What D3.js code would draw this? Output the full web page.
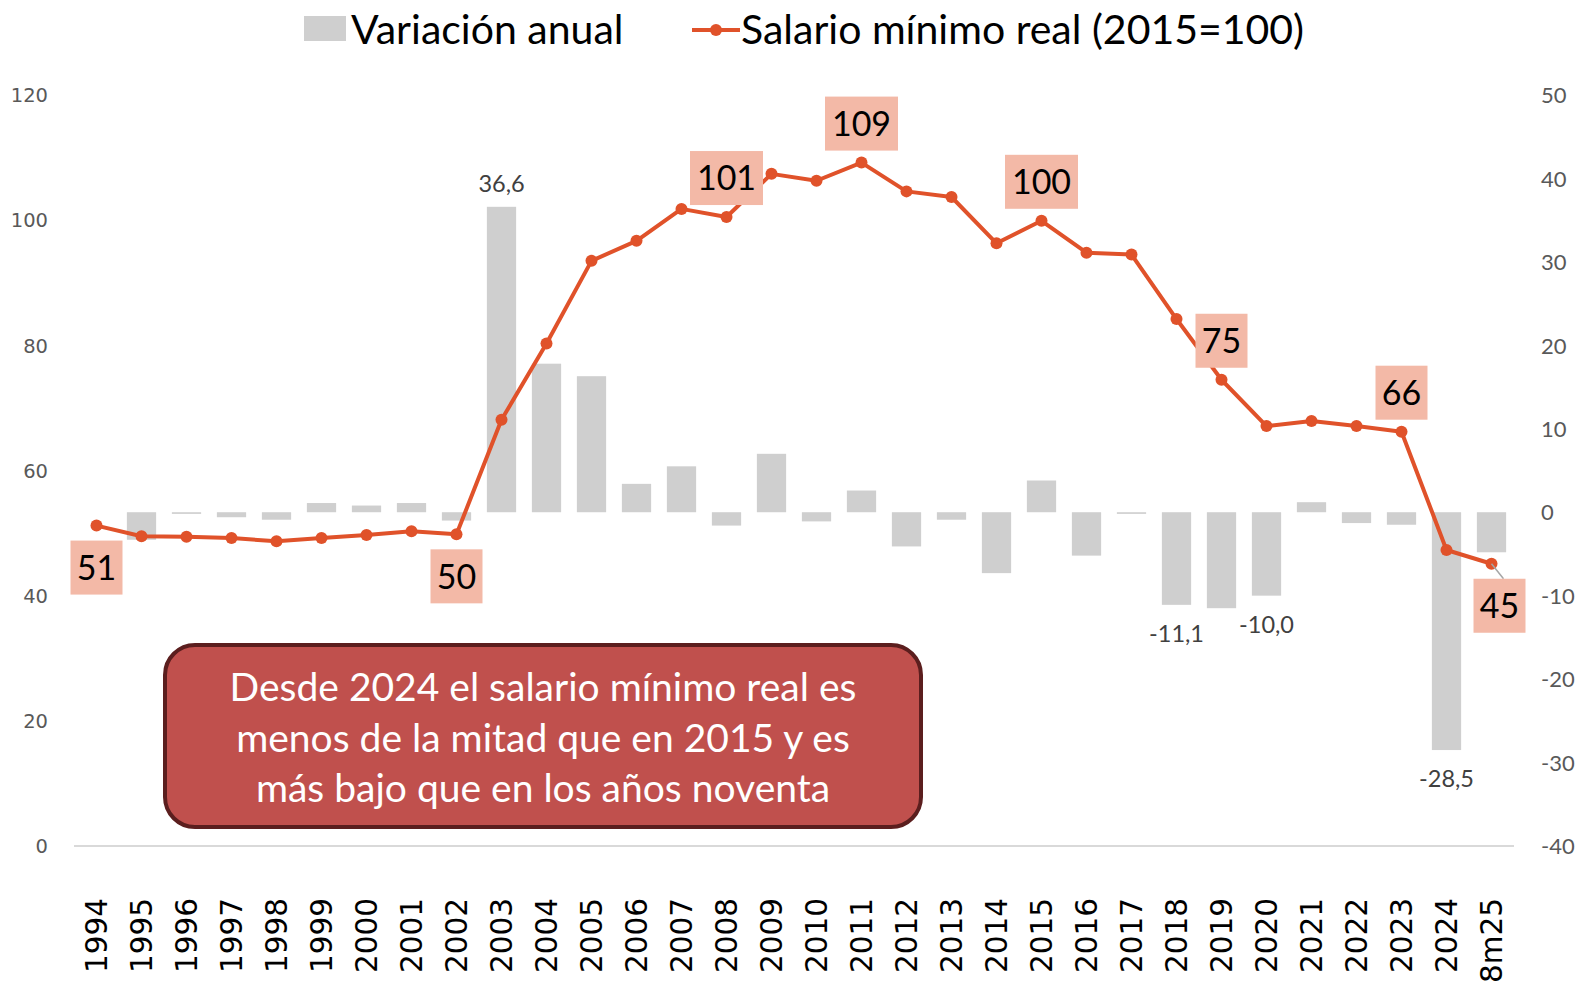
<!DOCTYPE html>
<html><head><meta charset="utf-8">
<script src="https://cdn.jsdelivr.net/npm/d3@7"></script>
<style>html,body{margin:0;padding:0;background:#fff;overflow:hidden}</style>
</head><body>
<svg id="c" width="1578" height="986"></svg>
<script>
const categories = ["1994","1995","1996","1997","1998","1999","2000","2001","2002","2003","2004","2005","2006","2007","2008","2009","2010","2011","2012","2013","2014","2015","2016","2017","2018","2019","2020","2021","2022","2023","2024","8m25"];
const salarioReal = [51.2,49.5,49.4,49.2,48.7,49.2,49.7,50.3,49.8,68.1,80.3,93.5,96.7,101.8,100.5,107.4,106.3,109.2,104.6,103.7,96.3,99.9,94.8,94.5,84.2,74.5,67.1,67.9,67.1,66.2,47.3,45.1];
const variacionAnual = [-3.3,-0.2,-0.6,-0.9,1.1,0.8,1.1,-1.0,36.6,17.8,16.3,3.4,5.5,-1.6,7.0,-1.1,2.6,-4.1,-0.9,-7.3,3.8,-5.2,-0.2,-11.1,-11.5,-10.0,1.2,-1.3,-1.5,-28.5,-4.8];
// first bar belongs to 1995; 1994 has no variation
const variacionCats = categories.slice(1);
const leftTicks = [0,20,40,60,80,100,120];
const rightTicks = [-40,-30,-20,-10,0,10,20,30,40,50];
const highlightCats = ["1994","2002","2008","2011","2015","2019","2023","8m25"];
const highlightPos = ["below","below","above","above","above","above","above","below"];
const barLabelCats = ["2003","2018","2020","2024"];
const legendLabels = ["Variación anual","Salario mínimo real (2015=100)"];
const noteLines = ["Desde 2024 el salario mínimo real es","menos de la mitad que en 2015 y es","más bajo que en los años noventa"];

(function(){
const svg = d3.select("#c");
const pL = 74, pR = 1514, pT = 95, pB = 846;
const LINE = "#E0522A", BAR = "#CFCFCF", HL = "#F3B9A7";

const x = d3.scaleBand().domain(categories).range([pL, pR]).paddingInner(0.35).paddingOuter(0.175);
const yL = d3.scaleLinear().domain([0,120]).range([pB, pT]);
const yR = d3.scaleLinear().domain([-40,50]).range([pB, pT]);
const cx = c => x(c) + x.bandwidth()/2;

// bottom axis line
svg.append("line").attr("x1", pL).attr("x2", pR).attr("y1", pB).attr("y2", pB)
  .attr("stroke", "#D9D9D9").attr("stroke-width", 2);

// left axis
const gL = svg.append("g").attr("transform", `translate(${pL-26},0)`)
  .call(d3.axisLeft(yL).tickValues(leftTicks).tickSize(0).tickPadding(0));
gL.select(".domain").remove();
gL.selectAll("text").attr("font-family","DejaVu Sans").attr("font-size",19.5).attr("fill","#595959").attr("dy","0.35em");

// right axis
const gR = svg.append("g").attr("transform", `translate(${pR+27},0)`)
  .call(d3.axisRight(yR).tickValues(rightTicks).tickSize(0).tickPadding(0).tickFormat(d => String(d)));
gR.select(".domain").remove();
gR.selectAll("text").attr("font-family","Lato").attr("font-size",22).attr("fill","#595959").attr("dy","0.35em");

// x labels
const gX = svg.append("g").attr("transform", `translate(0,${pB})`)
  .call(d3.axisBottom(x).tickSize(0).tickPadding(0));
gX.select(".domain").remove();
gX.selectAll("text")
  .attr("font-family","DejaVu Sans").attr("font-size",29.5).attr("fill","#000")
  .attr("text-anchor","end").attr("transform","rotate(-90)")
  .attr("x", -52).attr("y", 0).attr("dy","0.36em");

// bars
svg.append("g").selectAll("rect").data(variacionAnual).join("rect")
  .attr("x", (d,i) => x(variacionCats[i]))
  .attr("width", x.bandwidth())
  .attr("y", d => yR(Math.max(0,d)))
  .attr("height", d => Math.max(1, Math.abs(yR(d) - yR(0))))
  .attr("fill", BAR);

// bar labels
const fmt = v => v.toFixed(1).replace(".", ",");
svg.append("g").selectAll("text").data(barLabelCats).join("text")
  .attr("x", c => cx(c))
  .attr("y", c => { const v = variacionAnual[variacionCats.indexOf(c)]; return v >= 0 ? yR(v) - 23 : yR(v) + 29; })
  .attr("dy","0.35em")
  .attr("text-anchor","middle").attr("font-family","Lato").attr("font-size",23.5).attr("fill","#404040")
  .text(c => fmt(variacionAnual[variacionCats.indexOf(c)]));

// line
const line = d3.line().x((d,i) => cx(categories[i])).y(d => yL(d));
svg.append("path").datum(salarioReal).attr("d", line)
  .attr("fill","none").attr("stroke", LINE).attr("stroke-width", 4).attr("stroke-linejoin","round");
svg.append("g").selectAll("circle").data(salarioReal).join("circle")
  .attr("cx", (d,i) => cx(categories[i])).attr("cy", d => yL(d)).attr("r", 6).attr("fill", LINE);

// highlight labels
const hl = svg.append("g");
highlightCats.forEach((c, k) => {
  const i = categories.indexOf(c);
  const v = salarioReal[i];
  const txt = String(Math.round(v));
  const w = txt.length === 3 ? 73 : 52, h = 54;
  const px = cx(c) + (c === "8m25" ? 8 : 0);
  const py = yL(v);
  const cyv = highlightPos[k] === "above" ? py - 39 : py + 42;
  if (c === "8m25") {
    hl.append("line").attr("x1", cx(c)).attr("y1", py).attr("x2", px+4).attr("y2", cyv - h/2)
      .attr("stroke","#A6A6A6").attr("stroke-width",1.5);
  }
  hl.append("rect").attr("x", px - w/2).attr("y", cyv - h/2).attr("width", w).attr("height", h).attr("fill", HL);
  hl.append("text").attr("x", px).attr("y", cyv).attr("dy","0.36em").attr("text-anchor","middle")
    .attr("font-family","Lato").attr("font-size",34).attr("fill","#000").text(txt);
});

// legend
const lg = svg.append("g");
lg.append("rect").attr("x", 304).attr("y", 16).attr("width", 42).attr("height", 25).attr("fill", BAR);
lg.append("text").attr("x", 351).attr("y", 29).attr("dy","0.36em").attr("font-family","Lato").attr("font-size",41).attr("fill","#000").text(legendLabels[0]);
lg.append("line").attr("x1", 692).attr("x2", 740).attr("y1", 30).attr("y2", 30).attr("stroke", LINE).attr("stroke-width", 4);
lg.append("circle").attr("cx", 716).attr("cy", 30).attr("r", 6).attr("fill", LINE);
lg.append("text").attr("x", 741).attr("y", 29).attr("dy","0.36em").attr("font-family","Lato").attr("font-size",41).attr("fill","#000").text(legendLabels[1]);

// note box
const nb = svg.append("g");
nb.append("rect").attr("x", 165).attr("y", 645).attr("width", 756).attr("height", 182).attr("rx", 30).attr("ry", 30)
  .attr("fill", "#C0504D").attr("stroke", "#5B1E1E").attr("stroke-width", 4);
nb.selectAll("text").data(noteLines).join("text")
  .attr("x", 543).attr("y", (d,i) => 687 + i*50.5).attr("dy","0.36em").attr("text-anchor","middle")
  .attr("font-family","Lato").attr("font-size",39).attr("fill","#fff").text(d => d);
})();
</script>
</body></html>
